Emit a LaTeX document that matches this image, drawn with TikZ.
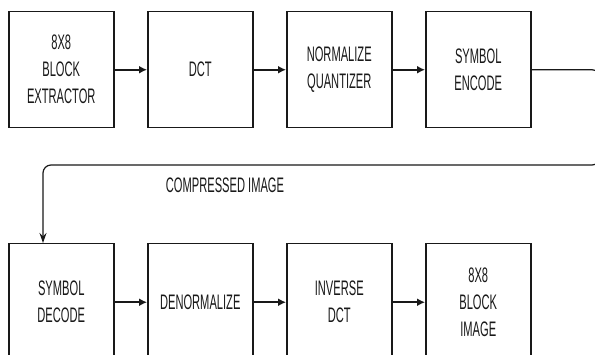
\documentclass[tikz,border=0pt]{standalone}
\usepackage{fontspec}
\setmainfont{Liberation Sans}[FakeStretch=0.53]
\usetikzlibrary{arrows.meta,calc}
\definecolor{ink}{RGB}{25,25,25}
\tikzset{
  blk/.style={draw=ink, line width=1.5pt, anchor=north west, minimum width=105pt,
    minimum height=116pt, inner sep=0pt, align=center, text=ink,
    font=\fontsize{21}{27}\selectfont},
  flow/.style={draw=ink, line width=1.8pt, -{Latex[length=8pt,width=8pt]}},
  link/.style={draw=ink, line width=1.2pt, rounded corners=8pt, -{Stealth[length=10pt,width=7pt]}},
  lbl/.style={text=ink, font=\fontsize{21}{24}\selectfont, inner sep=0pt}
}
\begin{document}
\begin{tikzpicture}[x=1pt,y=-1pt]
\useasboundingbox (0,0) rectangle (595,355);
\clip (0,0) rectangle (595,355);
\fill[white] (0,0) rectangle (595,355);
% top row
\node[blk] (ext) at (8,11) {8X8\\BLOCK\\EXTRACTOR};
\node[blk] (dct) at (147,11) {DCT};
\node[blk] (nq) at (286,11) {NORMALIZE\\QUANTIZER};
\node[blk] (enc) at (425,11) {SYMBOL\\ENCODE};
% bottom row
\node[blk, minimum height=117pt] (dec) at (8,243) {SYMBOL\\DECODE};
\node[blk, minimum height=117pt] (den) at (147,243) {DENORMALIZE};
\node[blk, minimum height=117pt] (idct) at (286,243) {INVERSE\\DCT};
\node[blk, minimum height=117pt] (img) at (425,243) {8X8\\BLOCK\\IMAGE};
% arrows
\draw[flow] (ext) -- (dct);
\draw[flow] (dct) -- (nq);
\draw[flow] (nq) -- (enc);
\draw[flow] (dec) -- (den);
\draw[flow] (den) -- (idct);
\draw[flow] (idct) -- (img);
% long connector
\coordinate (turnR) at (600,165);
\coordinate (decin) at ($(dec.north west)+(35,0)$);
\draw[link] (enc.east) -| (turnR) -| (decin);
\node[lbl] (cmp) at (225,185) {COMPRESSED IMAGE};
\end{tikzpicture}
\end{document}
